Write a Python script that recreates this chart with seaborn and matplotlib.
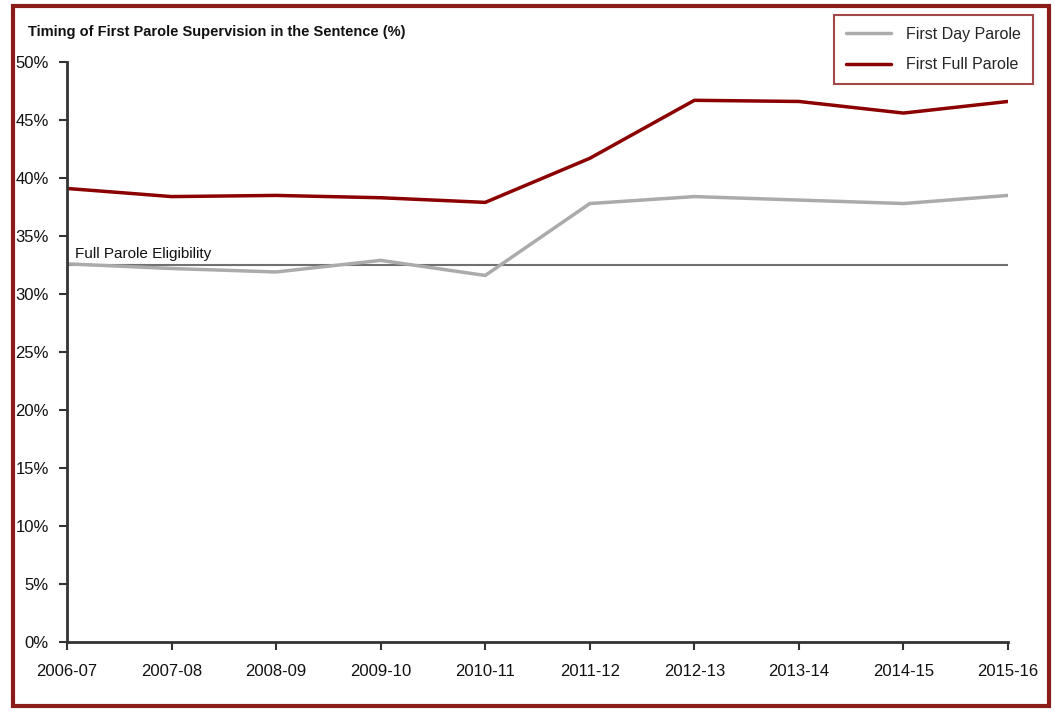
import matplotlib
matplotlib.use("Agg")
import matplotlib.pyplot as plt
import seaborn as sns
import pandas as pd
from matplotlib.patches import Rectangle
from matplotlib.lines import Line2D

years = ["2006-07", "2007-08", "2008-09", "2009-10", "2010-11",
         "2011-12", "2012-13", "2013-14", "2014-15", "2015-16"]
first_day = [32.6, 32.2, 31.9, 32.9, 31.6, 37.8, 38.4, 38.1, 37.8, 38.5]
first_full = [39.1, 38.4, 38.5, 38.3, 37.9, 41.7, 46.7, 46.6, 45.6, 46.6]
eligibility = 32.5

sns.set_style("white")
plt.rcParams["font.family"] = ["Liberation Sans", "DejaVu Sans"]

df = pd.DataFrame({"year": years * 2,
                   "value": first_day + first_full,
                   "series": ["First Day Parole"] * 10 + ["First Full Parole"] * 10})

fig = plt.figure(figsize=(10.55, 7.13), dpi=100)
ax = fig.add_axes([0.0635, 0.0996, 0.892, 0.8134])

ax.axhline(eligibility, color="#707070", lw=1.5, zorder=1)
sns.lineplot(data=df, x="year", y="value", hue="series", sort=False,
             palette={"First Day Parole": "#ababab", "First Full Parole": "#8b0000"},
             lw=2.5, ax=ax, legend=False, zorder=2)
ax.text(0.08, eligibility + 0.6, "Full Parole Eligibility", fontsize=11, color="#111111")

ax.set_xlim(0, len(years) - 1)
ax.set_ylim(0, 50)
ax.set_yticks(range(0, 51, 5))
ax.set_yticklabels([f"{v}%" for v in range(0, 51, 5)], fontsize=12)
ax.set_xticks(range(len(years)))
ax.set_xticklabels(years, fontsize=12)
ax.tick_params(axis="both", which="major", bottom=True, left=True, direction="out",
               length=6, width=1.5, color="#333333", labelcolor="#111111")
ax.tick_params(axis="x", pad=10)
ax.tick_params(axis="y", pad=7)
ax.set_xlabel("")
ax.set_ylabel("")
sns.despine(ax=ax)
for s in ("left", "bottom"):
    ax.spines[s].set_color("#333333")
    ax.spines[s].set_linewidth(2)

fig.text(0.027, 0.955, "Timing of First Parole Supervision in the Sentence (%)",
         fontsize=10.5, fontweight="bold", va="center", color="#111111")

handles = [Line2D([], [], color="#ababab", lw=2.5), Line2D([], [], color="#8b0000", lw=2.5)]
leg = fig.legend(handles, ["First Day Parole", "First Full Parole"],
                 loc="upper right", bbox_to_anchor=(0.979, 0.979), fontsize=11.5,
                 frameon=True, fancybox=False, handlelength=2.8, borderpad=0.75,
                 labelspacing=0.95, handletextpad=0.95, borderaxespad=0)
leg.get_frame().set_edgecolor("#8b1a1a")
leg.get_frame().set_linewidth(1.5)

fig.patches.append(Rectangle((0.012, 0.01), 0.982, 0.982, transform=fig.transFigure,
                             fill=False, edgecolor="#8b1a1a", lw=3))

fig.savefig("out.png", dpi=100)
plt.close(fig)
